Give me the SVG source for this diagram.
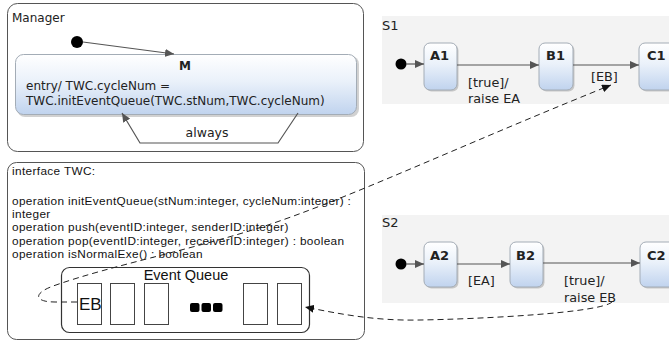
<svg xmlns="http://www.w3.org/2000/svg" width="669" height="343" viewBox="0 0 669 343">
<style>
.dv{font-family:"DejaVu Sans","Verdana",sans-serif;fill:#222;}
.ar{font-family:"Liberation Sans",Arial,sans-serif;fill:#111;}
.it{font-size:11.8px;letter-spacing:0.36px;}
.st{stroke:#a3acb6;stroke-width:1;fill:url(#sg);}
.sh{fill:#000;opacity:0.18;}
.box{fill:#fff;stroke:#555;stroke-width:1;}
.cell{fill:#fff;stroke:#444;stroke-width:1;}
.tr{fill:none;stroke:#555;stroke-width:1.2;}
.dash{fill:none;stroke:#222;stroke-width:1;stroke-dasharray:6 4;}
.region{fill:#f3f3f3;}
.nm{font-weight:bold;font-size:13px;}
.lb{font-size:12.8px;}
</style>
<defs>
<linearGradient id="sg" x1="0" y1="0" x2="0" y2="1">
<stop offset="0" stop-color="#ffffff"/>
<stop offset="0.45" stop-color="#eaf1fa"/>
<stop offset="1" stop-color="#c0d3ee"/>
</linearGradient>
<marker id="ag" markerUnits="userSpaceOnUse" markerWidth="10" markerHeight="8" refX="9" refY="4" orient="auto">
<path d="M0,0 L9,4 L0,8 z" fill="#555"/>
</marker>
<marker id="ab" markerUnits="userSpaceOnUse" markerWidth="10" markerHeight="8" refX="9" refY="4" orient="auto">
<path d="M0,0 L9,4 L0,8 z" fill="#111"/>
</marker>
</defs>

<g id="manager">
<rect class="box" x="7.5" y="3.5" width="356" height="148" rx="10"/>
<text class="dv" x="12" y="22" font-size="12">Manager</text>
</g>
<g id="manager-init">
<circle cx="77" cy="42" r="6" fill="#000"/>
</g>
<g id="state-M">
<rect class="sh" x="17" y="56" width="342" height="61" rx="8"/>
<rect class="st" x="15.5" y="54.5" width="341" height="60" rx="8"/>
<text class="dv" x="185" y="70" font-size="12" font-weight="bold" text-anchor="middle">M</text>
<text class="dv" x="26" y="90" font-size="12">entry/ TWC.cycleNum =</text>
<text class="dv" x="26" y="105" font-size="12">TWC.initEventQueue(TWC.stNum,TWC.cycleNum)</text>
</g>

<g id="interface">
<rect class="box" x="7.5" y="162.5" width="357" height="177" rx="9"/>
<text class="ar it" x="12" y="175">interface TWC:</text>
<text class="ar it" x="12" y="205">operation initEventQueue(stNum:integer, cycleNum:integer) :</text>
<text class="ar it" x="12" y="218.2">integer</text>
<text class="ar it" x="12" y="231.4">operation push(eventID:integer, senderID:integer)</text>
<text class="ar it" x="12" y="244.6">operation pop(eventID:integer, receiverID:integer) : boolean</text>
<text class="ar it" x="12" y="257.8">operation isNormalExe() : boolean</text>
</g>
<g id="event-queue">
<rect x="61.5" y="267.5" width="248" height="65" rx="8" fill="#fff" stroke="#333" stroke-width="1.2"/>
<text class="ar" font-size="14.5" x="186" y="280" text-anchor="middle">Event Queue</text>
<rect class="cell" x="77.5" y="283.5" width="24" height="41"/>
<text class="ar" font-size="17" x="79" y="310">EB</text>
<rect class="cell" x="110.5" y="283.5" width="24" height="41"/>
<rect class="cell" x="144.5" y="283.5" width="24" height="41"/>
<rect x="190" y="303" width="9.5" height="9" rx="2" fill="#000"/>
<rect x="201.5" y="303" width="9.5" height="9" rx="2" fill="#000"/>
<rect x="213" y="303" width="9.5" height="9" rx="2" fill="#000"/>
<rect class="cell" x="243.5" y="283.5" width="24" height="41"/>
<rect class="cell" x="277.5" y="283.5" width="24" height="41"/>
</g>

<g id="S1">
<rect class="region" x="382" y="16" width="287" height="88"/>
<text class="dv" x="382" y="30" font-size="13">S1</text>
</g>
<g id="S1-init"><circle cx="401" cy="64" r="5.5" fill="#000"/></g>
<g id="A1">
<rect class="sh" x="425.5" y="44.5" width="33" height="47" rx="6"/>
<rect class="st" x="424" y="43" width="33" height="47" rx="6"/>
<text class="dv nm" x="430" y="60">A1</text>
</g>
<g id="B1">
<rect class="sh" x="540.5" y="44.5" width="34" height="47" rx="6"/>
<rect class="st" x="539" y="43" width="34" height="47" rx="6"/>
<text class="dv nm" x="546" y="60">B1</text>
</g>
<g id="C1">
<rect class="sh" x="640.5" y="44.5" width="40" height="47" rx="6"/>
<rect class="st" x="639" y="43" width="40" height="47" rx="6"/>
<text class="dv nm" x="647" y="60">C1</text>
</g>

<g id="S2">
<rect class="region" x="382" y="215" width="287" height="88"/>
<text class="dv" x="382" y="227" font-size="13">S2</text>
</g>
<g id="S2-init"><circle cx="401" cy="264" r="5.5" fill="#000"/></g>
<g id="A2">
<rect class="sh" x="425.5" y="243.5" width="33" height="45" rx="6"/>
<rect class="st" x="424" y="242" width="33" height="45" rx="6"/>
<text class="dv nm" x="430" y="260">A2</text>
</g>
<g id="B2">
<rect class="sh" x="511.5" y="243.5" width="33" height="45" rx="6"/>
<rect class="st" x="510" y="242" width="33" height="45" rx="6"/>
<text class="dv nm" x="516" y="260">B2</text>
</g>
<g id="C2">
<rect class="sh" x="641.5" y="243.5" width="40" height="45" rx="6"/>
<rect class="st" x="640" y="242" width="40" height="45" rx="6"/>
<text class="dv nm" x="647" y="260">C2</text>
</g>

<g id="connectors">
<path class="tr" d="M83,42 L174,54" marker-end="url(#ag)"/>
<path class="tr" d="M298,113 L278,143 L140,143 L122,113" marker-end="url(#ag)"/>
<text class="dv" x="207" y="137" font-size="12.5" text-anchor="middle">always</text>

<path class="tr" d="M406,64 L424,64" marker-end="url(#ag)"/>
<path class="tr" d="M457,65 L539,65" marker-end="url(#ag)"/>
<text class="dv lb" x="468" y="87">[true]/</text>
<text class="dv lb" x="468" y="103">raise EA</text>
<path class="tr" d="M573,65 L639,65" marker-end="url(#ag)"/>
<text class="dv lb" x="591" y="81">[EB]</text>

<path class="tr" d="M406,264 L424,264" marker-end="url(#ag)"/>
<path class="tr" d="M457,264 L510,264" marker-end="url(#ag)"/>
<text class="dv lb" x="468" y="285">[EA]</text>
<path class="tr" d="M543,263 L640,263" marker-end="url(#ag)"/>
<text class="dv lb" x="564" y="285">[true]/</text>
<text class="dv lb" x="564" y="302">raise EB</text>

<path class="dash" d="M77,302 L55,302 C34,302 32,293 56,285 C110,266 190,250 262,227 C350,198 450,150 611,85" marker-end="url(#ab)"/>
<path class="dash" d="M612,302 C600,313 480,319 420,320 C375,321 340,314 305,307" marker-end="url(#ab)"/>
</g>
</svg>
